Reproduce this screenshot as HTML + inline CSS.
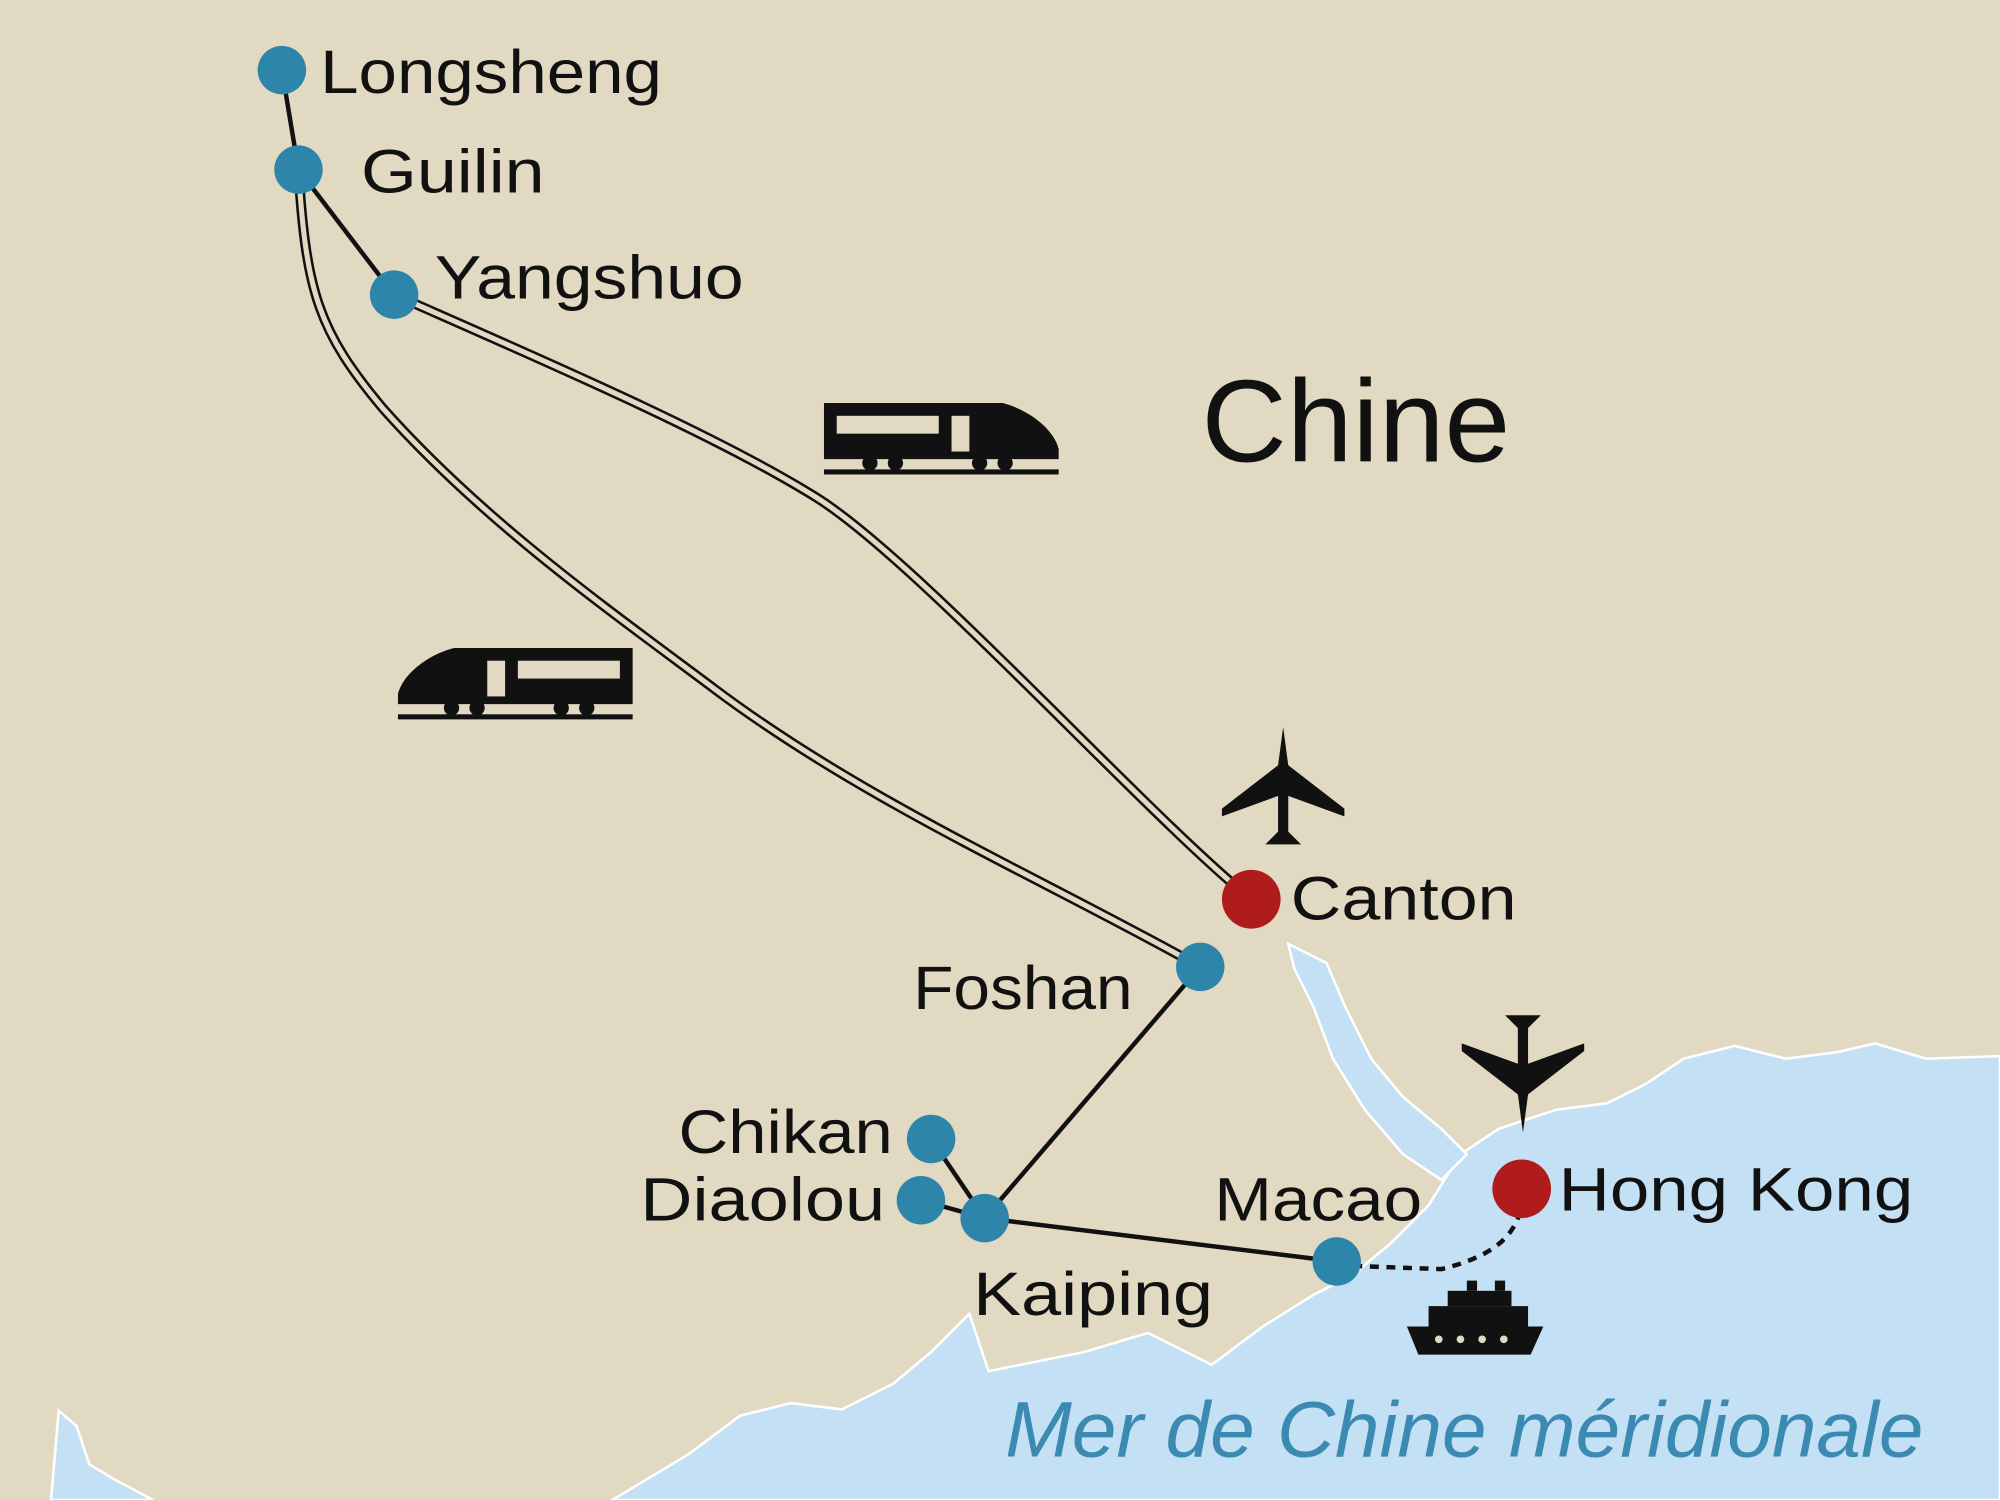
<!DOCTYPE html>
<html><head><meta charset="utf-8"><style>
html,body{margin:0;padding:0;background:#e1d9c1;}
svg{display:block;}
text{font-family:"Liberation Sans",sans-serif;fill:#111;}
</style></head><body>
<svg width="2000" height="1500" viewBox="0 0 1568 1176" xmlns="http://www.w3.org/2000/svg">
<rect width="1568" height="1176" fill="#e1d9c1"/>
<g fill="#c4e0f4" stroke="#ffffff" stroke-width="2">
<path d="M40 1176 L46 1106 L60 1118 L70 1148 L90 1160 L120 1176 Z"/>
<path d="M480 1176 L540 1140 L580 1110 L620 1100 L660 1105 L700 1085 L730 1060 L760 1030 L775 1075 L800 1070 L850 1060 L900 1045 L950 1070 L990 1040 L1030 1015 L1060 1000 L1090 975 L1120 945 L1145 905 L1175 885 L1220 870 L1260 865 L1290 850 L1320 830 L1360 820 L1400 830 L1440 825 L1470 818 L1510 830 L1568 828 L1568 1176 Z"/>
<path d="M1010 740 L1040 755 L1055 790 L1075 830 L1100 860 L1130 885 L1150 905 L1130 925 L1100 905 L1070 870 L1045 830 L1030 790 L1015 760 Z"/>
</g>
<g fill="none" stroke-linecap="round">
<path d="M234 133 C240 230 250 260 300 320 C380 410 480 480 560 540 C680 630 820 690 941 758" stroke="#111" stroke-width="8"/>
<path d="M234 133 C240 230 250 260 300 320 C380 410 480 480 560 540 C680 630 820 690 941 758" stroke="#e1d9c1" stroke-width="4"/>
<path d="M309 231 C420 280 560 340 640 390 C720 440 900 640 981 705" stroke="#111" stroke-width="8"/>
<path d="M309 231 C420 280 560 340 640 390 C720 440 900 640 981 705" stroke="#e1d9c1" stroke-width="4"/>
</g>
<g stroke="#111" stroke-width="3.5" fill="none">
<line x1="221" y1="55" x2="234" y2="133"/>
<line x1="234" y1="133" x2="309" y2="231"/>
<line x1="941" y1="758" x2="772" y2="955"/>
<line x1="730" y1="893" x2="772" y2="955"/>
<line x1="722" y1="941" x2="772" y2="955"/>
<line x1="772" y1="955" x2="1048" y2="989"/>
<path d="M1048 992 L1130 995 C1170 985 1188 970 1193 945" stroke-dasharray="7 6"/>
</g>
<g fill="#2d85aa">
<circle cx="221" cy="55" r="19"/><circle cx="234" cy="133" r="19"/><circle cx="309" cy="231" r="19"/>
<circle cx="941" cy="758" r="19"/><circle cx="730" cy="893" r="19"/><circle cx="722" cy="941" r="19"/>
<circle cx="772" cy="955" r="19"/><circle cx="1048" cy="989" r="19"/>
</g>
<g fill="#b01c1c"><circle cx="981" cy="705" r="23"/><circle cx="1193" cy="932" r="23"/></g>
<g font-size="48">
<text x="251" y="73" textLength="268" lengthAdjust="spacingAndGlyphs">Longsheng</text>
<text x="283" y="151" textLength="144" lengthAdjust="spacingAndGlyphs">Guilin</text>
<text x="341" y="234" textLength="242" lengthAdjust="spacingAndGlyphs">Yangshuo</text>
<text x="1012" y="721" textLength="177" lengthAdjust="spacingAndGlyphs">Canton</text>
<text x="716" y="791" textLength="172" lengthAdjust="spacingAndGlyphs">Foshan</text>
<text x="532" y="904" textLength="168" lengthAdjust="spacingAndGlyphs">Chikan</text>
<text x="502" y="957" textLength="192" lengthAdjust="spacingAndGlyphs">Diaolou</text>
<text x="763" y="1031" textLength="188" lengthAdjust="spacingAndGlyphs">Kaiping</text>
<text x="952" y="957" textLength="163" lengthAdjust="spacingAndGlyphs">Macao</text>
<text x="1222" y="949" textLength="278" lengthAdjust="spacingAndGlyphs">Hong Kong</text>
</g>
<text x="942" y="362" font-size="92" textLength="242" lengthAdjust="spacingAndGlyphs">Chine</text>
<text x="788" y="1142" font-size="62" font-style="italic" style="fill:#3a8ab2" textLength="720" lengthAdjust="spacingAndGlyphs">Mer de Chine méridionale</text>
<g fill="#111">
<g transform="translate(646,316)">
<path d="M0 0 H140 C160 5 180 20 184 36 V44 H0 Z"/>
<rect x="0" y="52" width="184" height="4"/>
<rect x="10" y="10" width="80" height="14" fill="#e1d9c1"/>
<rect x="100" y="10" width="14" height="28" fill="#e1d9c1"/>
<circle cx="36" cy="47" r="6"/><circle cx="56" cy="47" r="6"/><circle cx="122" cy="47" r="6"/><circle cx="142" cy="47" r="6"/>
</g>
<g transform="translate(496,508) scale(-1,1)">
<path d="M0 0 H140 C160 5 180 20 184 36 V44 H0 Z"/>
<rect x="0" y="52" width="184" height="4"/>
<rect x="10" y="10" width="80" height="14" fill="#e1d9c1"/>
<rect x="100" y="10" width="14" height="28" fill="#e1d9c1"/>
<circle cx="36" cy="47" r="6"/><circle cx="56" cy="47" r="6"/><circle cx="122" cy="47" r="6"/><circle cx="142" cy="47" r="6"/>
</g>
<path d="M1006 570 L1010 600 L1054 634 L1054 640 L1010 624 L1010 652 L1020 662 L992 662 L1002 652 L1002 624 L958 640 L958 634 L1002 600 Z"/>
<path d="M1194 888 L1198 858 L1242 824 L1242 818 L1198 834 L1198 806 L1208 796 L1180 796 L1190 806 L1190 834 L1146 818 L1146 824 L1190 858 Z"/>
<path d="M1103 1040 L1210 1040 L1200 1062 L1112 1062 Z"/>
<rect x="1120" y="1024" width="78" height="16"/>
<rect x="1135" y="1012" width="50" height="12"/>
<rect x="1150" y="1004" width="8" height="8"/><rect x="1172" y="1004" width="8" height="8"/>
</g>
<g fill="#e1d9c1"><circle cx="1128" cy="1050" r="3"/><circle cx="1145" cy="1050" r="3"/><circle cx="1162" cy="1050" r="3"/><circle cx="1179" cy="1050" r="3"/></g>
</svg>
</body></html>
